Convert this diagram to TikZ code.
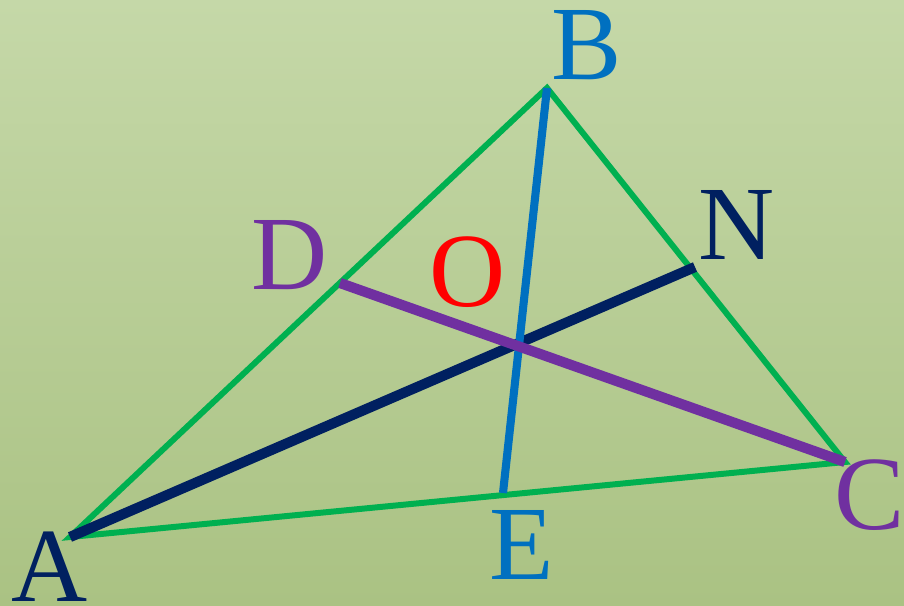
\documentclass[tikz,border=0pt]{standalone}
\usepackage{fontspec}
\setmainfont{Liberation Serif}
\definecolor{edgegreen}{HTML}{00B050}
\definecolor{navyline}{HTML}{002060}
\definecolor{blueline}{HTML}{0070C0}
\definecolor{purpleline}{HTML}{7030A0}
\definecolor{bgtop}{RGB}{197,216,168}
\definecolor{bgbottom}{RGB}{170,194,131}
\tikzset{
  lbl/.style={font=\fontsize{60}{60}\selectfont, inner sep=0pt, anchor=center},
  side/.style={edgegreen, line width=3.4pt},
}
\begin{document}
\begin{tikzpicture}[x=0.02cm, y=-0.02cm]
  \shade[top color=bgtop, bottom color=bgbottom] (0,0) rectangle (904,606);
  \useasboundingbox (0,0) rectangle (904,606);
  % vertices and feet
  \coordinate (A) at (70,537);
  \coordinate (B) at (547,88);
  \coordinate (C) at (845,462);
  \coordinate (D) at (340,283);
  \coordinate (E) at (503,493);
  \coordinate (N) at (695,267);
  % triangle
  \draw[side, line join=miter] (A) -- (B) -- (C) -- cycle;
  % cevians
  \draw[navyline, line width=5.8pt] (A) -- (N);
  \draw[blueline, line width=4.6pt] (B) -- (E);
  \draw[purpleline, line width=5.8pt] (D) -- (C);
  % labels
  \node[lbl, navyline]   (lA) at (50,567)  {A};
  \node[lbl, blueline]   (lB) at (587,45)  {B};
  \node[lbl, purpleline] (lC) at (870,495) {C};
  \node[lbl, purpleline] (lD) at (290,255) {D};
  \node[lbl, blueline]   (lE) at (522,545) {E};
  \node[lbl, navyline]   (lN) at (737,225) {N};
  \node[lbl, red]        (lO) at (468,272) {O};
\end{tikzpicture}
\end{document}
